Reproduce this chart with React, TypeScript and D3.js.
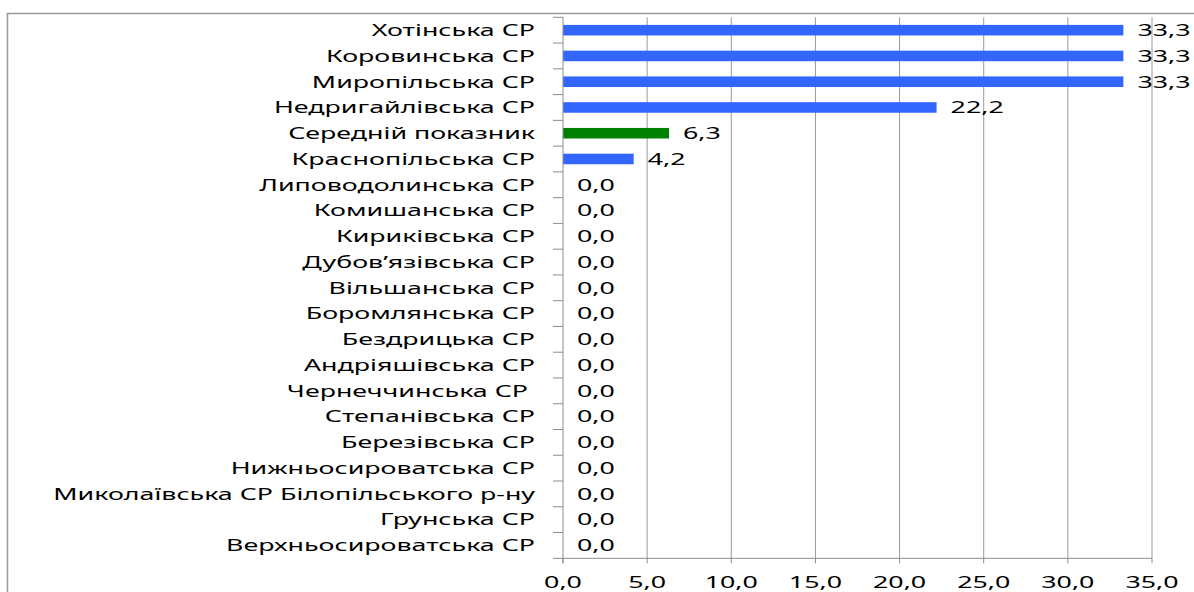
import * as d3 from 'd3';
import { useEffect, useRef } from 'react';

const WIDTH = 1194;
const HEIGHT = 592;

const categories = [
    'Хотінська СР',
    'Коровинська СР',
    'Миропільська СР',
    'Недригайлівська СР',
    'Середній показник',
    'Краснопільська СР',
    'Липоводолинська СР',
    'Комишанська СР',
    'Кириківська СР',
    'Дубов’язівська СР',
    'Вільшанська СР',
    'Боромлянська СР',
    'Бездрицька СР',
    'Андріяшівська СР',
    'Чернеччинська СР ',
    'Степанівська СР',
    'Березівська СР',
    'Нижньосироватська СР',
    'Миколаївська СР Білопільського р-ну',
    'Грунська СР',
    'Верхньосироватська СР',
];

const values = [33.3, 33.3, 33.3, 22.2, 6.3, 4.2, 0, 0, 0, 0, 0, 0, 0, 0, 0, 0, 0, 0, 0, 0, 0];

const AVERAGE_LABEL = 'Середній показник';
const xTicks = [0, 5, 10, 15, 20, 25, 30, 35];

const PLOT = { left: 563, right: 1152, top: 17.3, bottom: 558.3 };
const FONT = '"Noto Sans", sans-serif';
const FONT_SIZE = 16;
// the picture is stretched sideways, so text gets a horizontal scale
const LONGEST_LABEL_WIDTH = 482;

const fmt = (v: number) => v.toFixed(1).replace('.', ',');

const App = () => {
    const svgRef = useRef<SVGSVGElement>(null);

    useEffect(() => {
        const svg = d3.select(svgRef.current);
        svg.selectAll('*').remove();

        const xScale = d3.scaleLinear().domain([0, 35]).range([PLOT.left, PLOT.right]);
        const yScale = d3.scaleBand<string>()
            .domain(categories)
            .range([PLOT.top, PLOT.bottom])
            .paddingInner(0.59)
            .paddingOuter(0.295);

        // measure text to find the horizontal stretch
        const probe = svg.append('text')
            .attr('font-family', FONT)
            .attr('font-size', FONT_SIZE)
            .text('Миколаївська СР Білопільського р-ну');
        const measured = (probe.node() as SVGTextElement).getComputedTextLength();
        probe.remove();
        const sx = measured > 0 ? LONGEST_LABEL_WIDTH / measured : 1.5;

        // frame
        svg.append('rect')
            .attr('x', 7.5)
            .attr('y', 13.5)
            .attr('width', WIDTH + 20)
            .attr('height', HEIGHT + 20)
            .attr('fill', 'white')
            .attr('stroke', '#9a9a9a')
            .attr('stroke-width', 1.5);

        // grid lines
        svg.append('g')
            .selectAll('line')
            .data(xTicks.slice(1))
            .join('line')
            .attr('x1', d => xScale(d))
            .attr('x2', d => xScale(d))
            .attr('y1', PLOT.top)
            .attr('y2', PLOT.bottom)
            .attr('stroke', '#9a9a9a')
            .attr('stroke-width', 1);

        // bars
        const step = yScale.step();
        const barStart = (yScale(categories[0]) as number) - step * 0.295;
        svg.append('g')
            .selectAll('rect')
            .data(categories)
            .join('rect')
            .attr('x', xScale(0))
            .attr('y', d => yScale(d) as number)
            .attr('width', (d, i) => xScale(values[i]) - xScale(0))
            .attr('height', yScale.bandwidth())
            .attr('fill', d => (d === AVERAGE_LABEL ? '#008000' : '#3366ff'));

        // y axis line + ticks
        svg.append('line')
            .attr('x1', PLOT.left).attr('x2', PLOT.left)
            .attr('y1', PLOT.top).attr('y2', PLOT.bottom + 5)
            .attr('stroke', '#8c8c8c');
        svg.append('g')
            .selectAll('line')
            .data(d3.range(categories.length + 1))
            .join('line')
            .attr('x1', PLOT.left - 10)
            .attr('x2', PLOT.left)
            .attr('y1', i => barStart + i * step)
            .attr('y2', i => barStart + i * step)
            .attr('stroke', '#8c8c8c');

        // x axis line + ticks
        svg.append('line')
            .attr('x1', PLOT.left).attr('x2', PLOT.right)
            .attr('y1', PLOT.bottom).attr('y2', PLOT.bottom)
            .attr('stroke', '#8c8c8c');
        svg.append('g')
            .selectAll('line')
            .data(xTicks)
            .join('line')
            .attr('x1', d => xScale(d))
            .attr('x2', d => xScale(d))
            .attr('y1', PLOT.bottom)
            .attr('y2', PLOT.bottom + 5)
            .attr('stroke', '#8c8c8c');

        const addText = (
            g: d3.Selection<SVGGElement, unknown, null, undefined>,
            x: number, y: number, txt: string, anchor: string,
        ) => {
            g.append('text')
                .attr('transform', `translate(${x},${y}) scale(${sx},1)`)
                .attr('text-anchor', anchor)
                .attr('font-family', FONT)
                .attr('font-size', FONT_SIZE)
                .attr('fill', '#000')
                .style('white-space', 'pre')
                .text(txt);
        };

        // category labels
        const labels = svg.append('g');
        categories.forEach(c => {
            const cy = (yScale(c) as number) + yScale.bandwidth() / 2;
            addText(labels, 535, cy + 5.8, c, 'end');
        });

        // value labels
        const vals = svg.append('g');
        categories.forEach((c, i) => {
            const cy = (yScale(c) as number) + yScale.bandwidth() / 2;
            addText(vals, xScale(values[i]) + 14, cy + 5.8, fmt(values[i]), 'start');
        });

        // x tick labels
        const xl = svg.append('g');
        xTicks.forEach(t => addText(xl, xScale(t), 588, fmt(t), 'middle'));
    }, []);

    return (
        <svg
            ref={svgRef}
            width={WIDTH}
            height={HEIGHT}
            style={{ position: 'absolute', left: 0, top: 0, background: 'white' }}
        />
    );
};

export default App;
